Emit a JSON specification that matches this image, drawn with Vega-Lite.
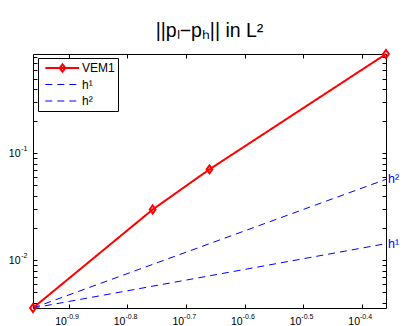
{
  "$schema": "https://vega.github.io/schema/vega-lite/v6.json",
  "width": 353,
  "height": 254,
  "autosize": {"type": "none"},
  "padding": {"left": 33, "top": 54, "right": 16, "bottom": 18},
  "background": "white",
  "title": {
    "text": "||pₗ−pₕ|| in L²",
    "font": "Liberation Sans",
    "fontSize": 19.5,
    "fontWeight": "normal",
    "color": "black",
    "anchor": "middle",
    "frame": "group",
    "baseline": "alphabetic",
    "offset": -10
  },
  "config": {
    "view": {"stroke": null},
    "axis": {
      "grid": false,
      "title": null,
      "domainColor": "black",
      "domainWidth": 1,
      "tickColor": "black",
      "tickWidth": 1,
      "labelColor": "black",
      "labelFont": "Liberation Sans",
      "labelFlush": false,
      "labelOverlap": false,
      "labelBound": false
    }
  },
  "datasets": {
    "lines": [
      {"series": "VEM1", "h": 0.109375, "err": 0.00357},
      {"series": "VEM1", "h": 0.175, "err": 0.0298},
      {"series": "VEM1", "h": 0.21875, "err": 0.0708},
      {"series": "VEM1", "h": 0.4375, "err": 0.85},
      {"series": "h¹", "h": 0.109375, "err": 0.00357},
      {"series": "h¹", "h": 0.4375, "err": 0.01428},
      {"series": "h²", "h": 0.109375, "err": 0.00357},
      {"series": "h²", "h": 0.4375, "err": 0.0571}
    ],
    "labels": [
      {"h": 0.4375, "err": 0.0571, "label": "h²"},
      {"h": 0.4375, "err": 0.01428, "label": "h¹"}
    ]
  },
  "resolve": {
    "scale": {"x": "independent", "y": "independent"},
    "axis": {"x": "independent", "y": "independent"}
  },
  "layer": [
    {
      "data": {"name": "lines"},
      "encoding": {
        "x": {
          "field": "h", "type": "quantitative",
          "scale": {"type": "log", "domain": [0.109375, 0.4375], "nice": false},
          "axis": {"orient": "bottom", "values": [0.125893, 0.158489, 0.199526, 0.251189, 0.316228, 0.398107], "labels": false, "tickSize": -4}
        },
        "y": {
          "field": "err", "type": "quantitative",
          "scale": {"type": "log", "domain": [0.00357, 0.85], "nice": false},
          "axis": {"orient": "left", "values": [0.004, 0.005, 0.006, 0.007, 0.008, 0.009, 0.01, 0.02, 0.03, 0.04, 0.05, 0.06, 0.07, 0.08, 0.09, 0.1, 0.2, 0.3, 0.4, 0.5, 0.6, 0.7, 0.8], "labels": false, "tickSize": -4}
        }
      },
      "layer": [
        {
          "mark": {"type": "line"},
          "encoding": {
            "color": {
              "field": "series", "type": "nominal",
              "scale": {"domain": ["VEM1", "h¹", "h²"], "range": ["#ff0000", "#0000ff", "#0000ff"]},
              "legend": {
                "title": null, "orient": "none", "legendX": 5, "legendY": 4,
                "padding": 3, "rowPadding": 2.5, "clipHeight": 14,
                "strokeColor": "black", "fillColor": "white",
                "labelFont": "Liberation Sans", "labelFontSize": 12, "labelColor": "black", "labelOffset": 2,
                "symbolSize": 1369,
                "encode": {"symbols": {"update": {
                  "shape": {"signal": "datum.value === 'VEM1' ? 'M-0.82,0H1M0.108,-0.2L0.259,0L0.108,0.2L-0.043,0Z' : 'M-0.82,0H1'"},
                  "fill": {"value": "transparent"}
                }}}
              }
            },
            "strokeDash": {
              "field": "series", "type": "nominal",
              "scale": {"domain": ["VEM1", "h¹", "h²"], "range": [[1, 0], [7, 5], [7, 5]]},
              "legend": {
                "title": null, "orient": "none", "legendX": 5, "legendY": 4,
                "padding": 3, "rowPadding": 2.5, "clipHeight": 14,
                "strokeColor": "black", "fillColor": "white",
                "labelFont": "Liberation Sans", "labelFontSize": 12, "labelColor": "black", "labelOffset": 2,
                "symbolSize": 1369
              }
            },
            "strokeWidth": {
              "field": "series", "type": "nominal",
              "scale": {"type": "ordinal", "domain": ["VEM1", "h¹", "h²"], "range": [2, 1, 1]},
              "legend": {
                "title": null, "orient": "none", "legendX": 5, "legendY": 4,
                "padding": 3, "rowPadding": 2.5, "clipHeight": 14,
                "strokeColor": "black", "fillColor": "white",
                "labelFont": "Liberation Sans", "labelFontSize": 12, "labelColor": "black", "labelOffset": 2,
                "symbolSize": 1369
              }
            }
          }
        },
        {
          "transform": [{"filter": "datum.series === 'VEM1'"}],
          "mark": {"type": "point", "shape": "M0,-1L0.72,0L0,1L-0.72,0Z", "size": 64, "filled": false, "stroke": "#ff0000", "strokeWidth": 2, "opacity": 1}
        },
        {
          "data": {"name": "labels"},
          "mark": {"type": "text", "align": "left", "baseline": "middle", "dx": 2, "font": "Liberation Sans", "fontSize": 12.5, "color": "#0000ff"},
          "encoding": {"text": {"field": "label"}}
        }
      ]
    },
    {
      "data": {"name": "lines"},
      "mark": {"type": "point", "opacity": 0},
      "encoding": {
        "x": {
          "field": "h", "type": "quantitative",
          "scale": {"type": "log", "domain": [0.109375, 0.4375], "nice": false},
          "axis": {"orient": "top", "values": [0.125893, 0.158489, 0.199526, 0.251189, 0.316228, 0.398107], "labels": false, "tickSize": -4}
        },
        "y": {
          "field": "err", "type": "quantitative",
          "scale": {"type": "log", "domain": [0.00357, 0.85], "nice": false},
          "axis": {"orient": "right", "values": [0.004, 0.005, 0.006, 0.007, 0.008, 0.009, 0.01, 0.02, 0.03, 0.04, 0.05, 0.06, 0.07, 0.08, 0.09, 0.1, 0.2, 0.3, 0.4, 0.5, 0.6, 0.7, 0.8], "labels": false, "tickSize": -4}
        }
      }
    },
    {
      "data": {"name": "lines"},
      "mark": {"type": "point", "opacity": 0},
      "encoding": {
        "x": {
          "field": "h", "type": "quantitative",
          "scale": {"type": "log", "domain": [0.109375, 0.4375], "nice": false},
          "axis": {"orient": "bottom", "values": [0.125893, 0.158489, 0.199526, 0.251189, 0.316228, 0.398107], "ticks": false, "domain": false, "labelExpr": "'10'", "labelAlign": "right", "labelBaseline": "alphabetic", "labelOffset": -2.5, "labelPadding": 16, "labelFontSize": 10.5}
        },
        "y": {
          "field": "err", "type": "quantitative",
          "scale": {"type": "log", "domain": [0.00357, 0.85], "nice": false},
          "axis": {"orient": "left", "values": [0.01, 0.1], "ticks": false, "domain": false, "labelExpr": "'10'", "labelAlign": "right", "labelBaseline": "middle", "labelPadding": 13, "labelFontSize": 10.5}
        }
      }
    },
    {
      "data": {"name": "lines"},
      "mark": {"type": "point", "opacity": 0},
      "encoding": {
        "x": {
          "field": "h", "type": "quantitative",
          "scale": {"type": "log", "domain": [0.109375, 0.4375], "nice": false},
          "axis": {"orient": "bottom", "values": [0.125893, 0.158489, 0.199526, 0.251189, 0.316228, 0.398107], "ticks": false, "domain": false,
            "labelExpr": "datum.value < 0.14 ? '-0.9' : datum.value < 0.18 ? '-0.8' : datum.value < 0.22 ? '-0.7' : datum.value < 0.28 ? '-0.6' : datum.value < 0.35 ? '-0.5' : '-0.4'",
            "labelAlign": "left", "labelBaseline": "alphabetic", "labelOffset": -2.5, "labelPadding": 10, "labelFontSize": 7}
        },
        "y": {
          "field": "err", "type": "quantitative",
          "scale": {"type": "log", "domain": [0.00357, 0.85], "nice": false},
          "axis": {"orient": "left", "values": [0.01, 0.1], "ticks": false, "domain": false,
            "labelExpr": "datum.value < 0.05 ? '-2' : '-1'",
            "labelAlign": "right", "labelBaseline": "middle", "labelPadding": 6, "labelOffset": -4.5, "labelFontSize": 7}
        }
      }
    }
  ]
}
